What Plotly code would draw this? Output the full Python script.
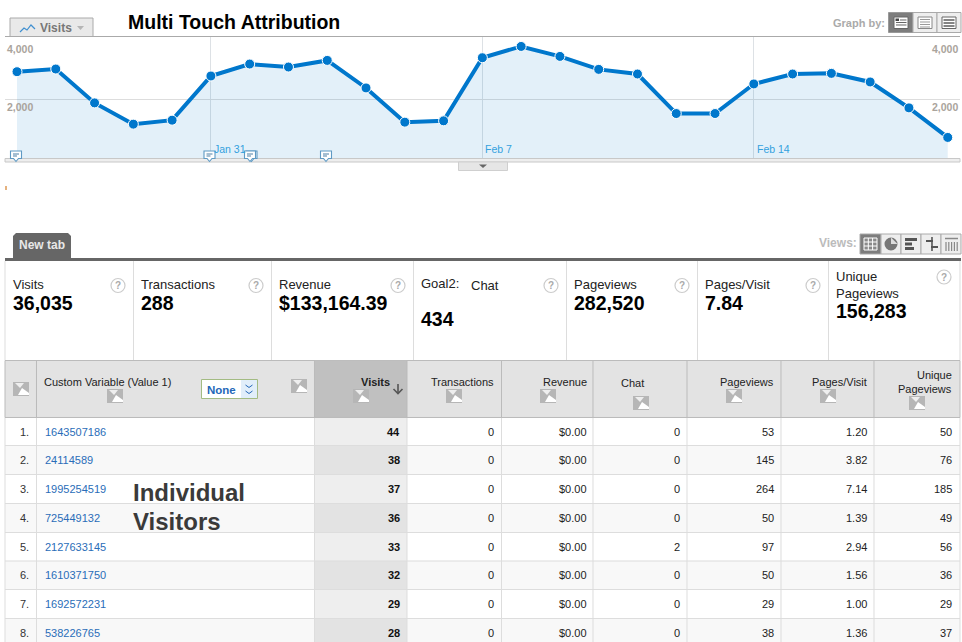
import pandas as pd
import plotly.graph_objects as go

W, H = 962, 642
FONT = "Liberation Sans"

# chart data
dates = pd.date_range("2010-01-26", "2010-02-19", freq="D")
visits = [2878, 2963, 1884, 1206, 1333, 2741, 3122, 3026, 3238, 2360, 1270, 1312, 3323,
          3683, 3365, 2952, 2804, 1545, 1545, 2487, 2804, 2825, 2550, 1725, 783]
y_ticks = [4000, 2000]
y_tick_labels = ["4,000", "2,000"]
date_ticks = ["2010-01-31", "2010-02-07", "2010-02-14"]
date_labels = ["Jan 31", "Feb 7", "Feb 14"]

# summary strip
summary_labels = ["Visits", "Transactions", "Revenue", "Goal2:", "Pageviews", "Pages/Visit", "Unique<br>Pageviews"]
summary_values = ["36,035", "288", "$133,164.39", "434", "282,520", "7.84", "156,283"]

# table rows
visitor_ids = ["1643507186", "24114589", "1995254519", "725449132",
               "2127633145", "1610371750", "1692572231", "538226765"]
col_visits = ["44", "38", "37", "36", "33", "32", "29", "28"]
col_trans = ["0", "0", "0", "0", "0", "0", "0", "0"]
col_revenue = ["$0.00", "$0.00", "$0.00", "$0.00", "$0.00", "$0.00", "$0.00", "$0.00"]
col_chat = ["0", "0", "0", "0", "2", "0", "0", "0"]
col_pageviews = ["53", "145", "264", "50", "97", "50", "29", "38"]
col_pages_visit = ["1.20", "3.82", "7.14", "1.39", "2.94", "1.56", "1.00", "1.36"]
col_unique = ["50", "76", "185", "49", "56", "36", "29", "37"]

shapes = []
notes = []


def px(x):
    return x / W


def py(y):
    return 1 - y / H


def rect(x0, y0, x1, y1, fill=None, line=None, lw=1):
    shapes.append(dict(type="rect", xref="paper", yref="paper", x0=px(x0), x1=px(x1), y0=py(y0), y1=py(y1),
                       fillcolor=fill or "rgba(0,0,0,0)", line=dict(color=line or "rgba(0,0,0,0)", width=lw if line else 0)))


def circle(x, y, r, fill=None, line=None, lw=1):
    shapes.append(dict(type="circle", xref="paper", yref="paper", x0=px(x - r), x1=px(x + r), y0=py(y - r), y1=py(y + r),
                       fillcolor=fill or "rgba(0,0,0,0)", line=dict(color=line or "rgba(0,0,0,0)", width=lw if line else 0)))


def poly(points, fill=None, line=None, lw=1, close=True):
    d = "M " + " L ".join(f"{px(a):.5f},{py(b):.5f}" for a, b in points) + (" Z" if close else "")
    shapes.append(dict(type="path", xref="paper", yref="paper", path=d,
                       fillcolor=fill or "rgba(0,0,0,0)", line=dict(color=line or "rgba(0,0,0,0)", width=lw if line else 0)))


def txt(x, y, text, size=11, color="#222", anchor="left", bold=False, font=FONT):
    notes.append(dict(xref="paper", yref="paper", x=px(x), y=py(y), text=f"<b>{text}</b>" if bold else text,
                      showarrow=False, xanchor=anchor, yanchor="middle", borderpad=0, borderwidth=0,
                      font=dict(family=font, size=size, color=color)))


def bubble(x):
    # little annotation marker sitting on the axis bar
    poly([(x - 5.5, 151), (x + 5.5, 151), (x + 5.5, 158.5), (x + 2.5, 158.5), (x, 161.5), (x - 2.5, 158.5), (x - 5.5, 158.5)],
         fill="white", line="#5f9ac4", lw=1.1)
    poly([(x - 3, 154), (x + 3, 154)], line="#4c7fa5", close=False)
    poly([(x - 3, 156), (x + 1, 156)], line="#4c7fa5", close=False)


def broken_img(x, y):
    rect(x - 8, y - 7, x + 8, y + 7, fill="#b6b6b6")
    poly([(x - 6, y - 6), (x + 3, y - 6), (x - 1, y - 1)], fill="#eeeeee")
    poly([(x - 3, y + 6), (x + 1, y - 1), (x + 8, y + 4), (x + 8, y + 6)], fill="white")


# chart chrome
rect(10, 18, 93, 36.5, fill="#e9e9e9", line="#aaaaaa")
poly([(20, 32), (24, 28), (27, 30), (31, 25), (35, 29)], line="#3f8fd0", lw=1.2, close=False)
txt(40, 28, "Visits", 12, "#777777", bold=True)
poly([(77, 26), (84, 26), (80.5, 30)], fill="#b5b5b5")
txt(128, 21.5, "Multi Touch Attribution", 19.5, "#000000", bold=True)

txt(885, 23, "Graph by:", 11, "#aaaaaa", "right", True)
rect(888.5, 12.5, 913, 32.5, fill="#7d7d7d", line="#999999")
rect(913, 12.5, 937, 32.5, fill="#eeeeee", line="#aaaaaa")
rect(937, 12.5, 961, 32.5, fill="#eeeeee", line="#aaaaaa")
rect(894, 17, 908, 28.5, fill="white", line="#666666")
rect(895.5, 18.5, 899, 21, fill="#444444")
for ly in [20, 22.5, 25]:
    poly([(900 if ly == 20 else 896, ly), (906.5, ly)], line="#666666", close=False)
rect(918, 17, 932, 28.5, fill="white", line="#888888")
for ly in [19.5, 22, 24.5, 27]:
    poly([(920, ly), (930, ly)], line="#999999", close=False)
rect(942, 17, 956, 28.5, fill="white", line="#666666")
for ly in [20, 23, 26]:
    poly([(943.5, ly), (954.5, ly)], line="#666666", lw=1.6, close=False)

rect(5, 158.5, 960, 162, fill="#eeeeee", line="#c8c8c8")
rect(458.5, 162, 507.5, 170.5, fill="#e6e6e6", line="#cfcfcf")
poly([(479, 164.5), (487, 164.5), (483, 168)], fill="#666666")
for bx in [16, 209.5, 251.5, 250, 326]:
    bubble(bx)
rect(5.5, 186, 6.5, 190, fill="#cc6600")

# tab and views
poly([(13, 258), (13, 236), (16, 233), (68, 233), (71, 236), (71, 258)], fill="#666666")
txt(19, 245.5, "New tab", 12, "#e8e8e8", bold=True)
rect(5, 258, 961, 261, fill="#666666")
txt(857, 243, "Views:", 12, "#bbbbbb", "right", True)
view_x = [860, 881, 901, 921, 941, 961]
for i in range(5):
    rect(view_x[i], 234, view_x[i + 1], 254, fill="#7d7d7d" if i == 0 else "#eeeeee", line="#aaaaaa")
rect(864, 238, 877, 250, fill="#8a8a8a", line="white")
for k in range(1, 3):
    poly([(864 + k * 4.3, 238), (864 + k * 4.3, 250)], line="white", close=False)
for k in range(1, 3):
    poly([(864, 238 + k * 4), (877, 238 + k * 4)], line="white", close=False)
circle(891, 244, 6.5, fill="#777777")
poly([(891, 244), (891, 237.5), (897.5, 244)], fill="#dddddd")
for k, ln in enumerate([12, 7, 9]):
    rect(905, 238 + k * 4.5, 905 + ln, 241 + k * 4.5, fill="#555555")
poly([(926, 241), (933, 241)], line="#555555", lw=2, close=False)
poly([(931, 247), (938, 247)], line="#555555", lw=2, close=False)
poly([(932, 237), (932, 251)], line="#555555", lw=1.6, close=False)
for k in range(5):
    poly([(946 + k * 2.8, 242), (946 + k * 2.8, 251)], line="#888888", lw=1.2, close=False)
poly([(945, 238.5), (958, 238.5)], line="#888888", lw=1.5, close=False)

# summary strip
summary_edges = [5, 133.5, 271.5, 413.5, 566.5, 697.5, 828.5, 960]
help_x = [118, 256, 398, 551, 682, 813, 944]
for e in summary_edges:
    poly([(e, 261), (e, 360)], line="#dddddd", close=False)
for i in range(7):
    lx = summary_edges[i] + (8 if i == 0 else 7.5)
    if i == 3:
        txt(lx, 283, summary_labels[i], 13, "#222222")
        txt(471, 285, "Chat", 13, "#222222")
        txt(lx, 319, summary_values[i], 19.5, "#000000", bold=True)
    elif i == 6:
        txt(lx, 276, "Unique", 13, "#222222")
        txt(lx, 293, "Pageviews", 13, "#222222")
        txt(lx, 311, summary_values[i], 19.5, "#000000", bold=True)
    else:
        txt(lx, 284.5, summary_labels[i], 13, "#222222")
        txt(lx, 303, summary_values[i], 19.5, "#000000", bold=True)
    hy = 277 if i == 6 else 285.5
    circle(help_x[i], hy, 7, fill="white", line="#cccccc", lw=1.2)
    txt(help_x[i], hy, "?", 10, "#aaaaaa", "center", True)

# table
col_edges = [5, 36.5, 314.5, 407, 501.5, 593, 687, 781, 874, 960]
row_edges = [417.5, 445.5, 474.5, 503.5, 532.5, 561, 589.5, 618.5, 647]
rect(5, 360.5, 960, 417.5, fill="#e3e3e3", line="#bbbbbb")
rect(314.5, 360.5, 407, 417.5, fill="#c0c0c0")
for e in col_edges[1:-1]:
    poly([(e, 360.5), (e, 417.5)], line="#bbbbbb", close=False)

txt(44, 382, "Custom Variable (Value 1)", 11, "#222222")
txt(389.5, 382, "Visits", 11, "#222222", "right", True)
poly([(398, 384), (398, 393)], line="#555555", lw=1.6, close=False)
poly([(393.5, 389), (398, 393.5), (402.5, 389)], line="#555555", lw=1.6, close=False)
txt(494, 382, "Transactions", 11, "#222222", "right")
txt(586.5, 382, "Revenue", 11, "#222222", "right")
txt(632, 383, "Chat", 11, "#222222", "center")
txt(773.5, 382, "Pageviews", 11, "#222222", "right")
txt(867, 382, "Pages/Visit", 11, "#222222", "right")
txt(952, 375, "Unique", 11, "#222222", "right")
txt(952, 389, "Pageviews", 11, "#222222", "right")

for bx, by in [(21, 389), (115, 396), (299, 386), (361, 396), (454, 396), (548, 396),
               (641, 403), (734, 396), (828, 396), (917, 403)]:
    broken_img(bx, by)

rect(201.5, 379.5, 257.5, 398.5, fill="white", line="#a3bb83")
rect(241, 380, 257, 398, fill="#e1eefa")
txt(207, 389.5, "None", 11.5, "#2467b8", bold=True)
poly([(245.5, 385), (249, 387.5), (252.5, 385)], line="#2467b8", close=False)
poly([(245.5, 391), (249, 393.5), (252.5, 391)], line="#2467b8", close=False)

for i in range(8):
    top, bot = row_edges[i], row_edges[i + 1]
    odd = i % 2 == 1
    rect(5, top, 960, bot, fill="#f8f8f8" if odd else "white")
    rect(314.5, top, 407, bot, fill="#e3e3e3" if odd else "#eeeeee")
for e in row_edges:
    poly([(5, e), (960, e)], line="#dddddd", close=False)
for e in col_edges:
    poly([(e, 417.5), (e, 642)], line="#dddddd", close=False)
poly([(5, 417.5), (960, 417.5)], line="#bbbbbb", close=False)

value_cols = [(col_trans, 493.5), (col_revenue, 587), (col_chat, 679.5),
              (col_pageviews, 773.5), (col_pages_visit, 867), (col_unique, 952)]
for i in range(8):
    cy = (row_edges[i] + row_edges[i + 1]) / 2
    txt(28.5, cy, f"{i + 1}.", 11, "#333333", "right")
    txt(45, cy, visitor_ids[i], 11, "#2a6db8")
    txt(399.5, cy, col_visits[i], 11, "#111111", "right", True)
    for values, right in value_cols:
        txt(right, cy, values[i], 11, "#222222", "right")

txt(133, 492.5, "Individual", 24, "#3a3a3a", bold=True)
txt(133, 521, "Visitors", 24, "#3a3a3a", bold=True)

# tick labels sit just under their gridlines
for label, label_y in zip(y_tick_labels, [49.3, 107.3]):
    txt(7, label_y, label, 10.5, "#aaa49c", bold=True)
    txt(957.5, label_y, label, 10.5, "#aaa49c", "right", True)

fig = go.Figure()
fig.add_trace(go.Scatter(
    x=dates, y=visits, mode="lines+markers", fill="tozeroy", fillcolor="rgba(0,119,204,0.11)",
    line=dict(color="#0077cc", width=4),
    marker=dict(color="#0077cc", size=10, line=dict(color="white", width=1)),
    hoverinfo="skip", cliponaxis=False,
))

# 38.78 px per day, first point sits 12 px inside the plot
x_start = dates[0] + pd.Timedelta(days=(5 - 17) / 38.78)
x_end = dates[0] + pd.Timedelta(days=(960 - 17) / 38.78)

for d, label in zip(date_ticks, date_labels):
    notes.append(dict(xref="x", yref="paper", x=d, y=py(149.5), text=label, showarrow=False, xanchor="left",
                      yanchor="middle", xshift=3, borderpad=0, borderwidth=0,
                      font=dict(family=FONT, size=10.5, color="#33a1de")))

# top rule of the chart
rect(5, 36, 960, 37, fill="#aaaaaa")

fig.update_layout(
    width=W, height=H, margin=dict(l=0, r=0, t=0, b=0, pad=0),
    paper_bgcolor="white", plot_bgcolor="white", showlegend=False,
    shapes=shapes, annotations=notes,
    xaxis=dict(domain=[px(5), px(960)], range=[x_start, x_end], tickvals=date_ticks, showticklabels=False,
               showgrid=True, gridcolor="#dde1e5", gridwidth=1, zeroline=False, showline=False, ticks=""),
    yaxis=dict(domain=[py(162), py(36.5)], range=[0, 4000], tickvals=y_ticks, showticklabels=False,
               showgrid=True, gridcolor="#dddddd", gridwidth=1, zeroline=False, showline=False, ticks=""),
)

fig.write_html("out.html", config={"displayModeBar": False},
               post_script="document.body.style.margin='0';document.documentElement.style.overflow='hidden';")
